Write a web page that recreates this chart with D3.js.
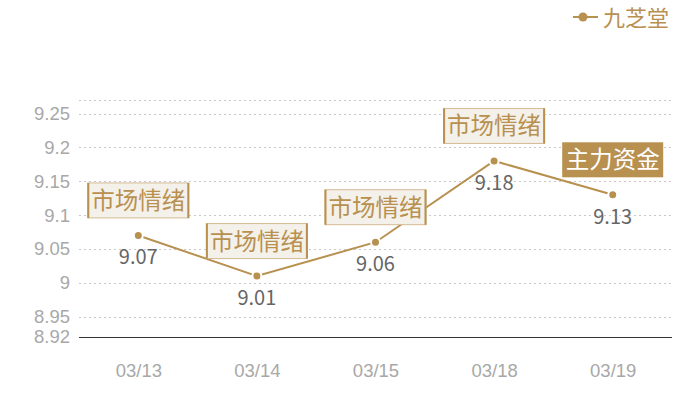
<!DOCTYPE html>
<html>
<head>
<meta charset="utf-8">
<script src="https://cdn.jsdelivr.net/npm/d3@7"></script>
<style>
  body { margin: 0; background: #fff; }
  svg { font-family: "Noto Sans CJK SC", "Noto Sans", sans-serif; }
</style>
</head>
<body>
<div id="chart"></div>
<script>
// data
var dates = ["03/13", "03/14", "03/15", "03/18", "03/19"];
var prices = [9.07, 9.01, 9.06, 9.18, 9.13];
var tags = ["市场情绪", "市场情绪", "市场情绪", "市场情绪", "主力资金"];
var yTicks = [8.92, 8.95, 9, 9.05, 9.1, 9.15, 9.2, 9.25];
var yMax = 9.27;
var seriesName = "九芝堂";

var W = 700, H = 400;
var margin = {top: 100, right: 28, bottom: 63, left: 79};
var gold = "#b8904f";

var svg = d3.select("#chart").append("svg")
    .attr("width", W)
    .attr("height", H);

var x = d3.scalePoint().domain(dates)
    .range([margin.left, W - margin.right]).padding(0.5);
var y = d3.scaleLinear().domain([yTicks[0], yMax])
    .range([H - margin.bottom, margin.top]);

// grid lines
svg.append("g").selectAll("line")
    .data(yTicks.slice(1).concat([yMax]))
    .enter().append("line")
    .attr("x1", margin.left).attr("x2", W - margin.right)
    .attr("y1", function(d) { return Math.round(y(d)) + 0.5; })
    .attr("y2", function(d) { return Math.round(y(d)) + 0.5; })
    .attr("stroke", "#c8c8c8")
    .attr("stroke-dasharray", "2,3");

// y axis labels
var yaxis = d3.axisLeft(y).tickValues(yTicks).tickSize(0).tickPadding(9)
    .tickFormat(function(d) { return String(+d.toFixed(2)); });
var gy = svg.append("g")
    .attr("transform", "translate(" + margin.left + ",0)")
    .call(yaxis);
gy.select(".domain").remove();
gy.selectAll("text").attr("fill", "#a8a8a8").style("font-size", "18.5px");

// x axis
var xaxis = d3.axisBottom(x).tickSize(0).tickPadding(27);
var gx = svg.append("g")
    .attr("transform", "translate(0," + (H - margin.bottom) + ")")
    .call(xaxis);
gx.select(".domain").attr("stroke", "#333").attr("d",
    "M" + margin.left + ",0.5H" + (W - margin.right));
gx.selectAll("text").attr("fill", "#a8a8a8").style("font-size", "18.5px");

// line
var line = d3.line()
    .x(function(d, i) { return x(dates[i]); })
    .y(function(d) { return y(d); });
svg.append("path")
    .datum(prices)
    .attr("d", line)
    .attr("fill", "none")
    .attr("stroke", gold)
    .attr("stroke-width", 2);

svg.append("g").selectAll("circle")
    .data(prices)
    .enter().append("circle")
    .attr("cx", function(d, i) { return x(dates[i]); })
    .attr("cy", function(d) { return y(d); })
    .attr("r", 4.5)
    .attr("fill", gold)
    .attr("stroke", "#fff")
    .attr("stroke-width", 2);

// value labels
svg.append("g").selectAll("text")
    .data(prices)
    .enter().append("text")
    .attr("x", function(d, i) { return x(dates[i]); })
    .attr("y", function(d) { return y(d) + 29; })
    .attr("text-anchor", "middle")
    .attr("fill", "#666")
    .style("font-size", "20px")
    .text(function(d) { return d.toFixed(2); });

// tag boxes
var tagG = svg.append("g").selectAll("g")
    .data(prices)
    .enter().append("g")
    .attr("transform", function(d, i) {
        return "translate(" + x(dates[i]) + "," + (y(d) - 35) + ")";
    });
tagG.append("rect")
    .attr("x", -50.5).attr("y", -17.5)
    .attr("width", 101).attr("height", 35)
    .attr("fill", function(d, i) { return i === 4 ? gold : "#f4f0ea"; })
    .attr("stroke", function(d, i) { return i === 4 ? "none" : "#d4bb93"; })
    .attr("stroke-width", 1);
tagG.filter(function(d, i) { return i !== 4; })
    .append("path")
    .attr("d", "M-50,-17.5V17.5M50,-17.5V17.5")
    .attr("stroke", gold)
    .attr("stroke-width", 2);
tagG.append("text")
    .attr("text-anchor", "middle")
    .attr("dy", "0.36em")
    .attr("fill", function(d, i) { return i === 4 ? "#fff" : gold; })
    .style("font-size", "23.5px")
    .text(function(d, i) { return tags[i]; });

// legend
var lg = svg.append("g").attr("transform", "translate(573,17)");
lg.append("line").attr("x1", 0).attr("x2", 25)
    .attr("stroke", gold).attr("stroke-width", 2);
lg.append("circle").attr("cx", 10).attr("r", 4.5).attr("fill", gold);
lg.append("text").attr("x", 30).attr("y", 1.5).attr("dy", "0.36em")
    .attr("fill", gold).style("font-size", "22px")
    .text(seriesName);
</script>
</body>
</html>
